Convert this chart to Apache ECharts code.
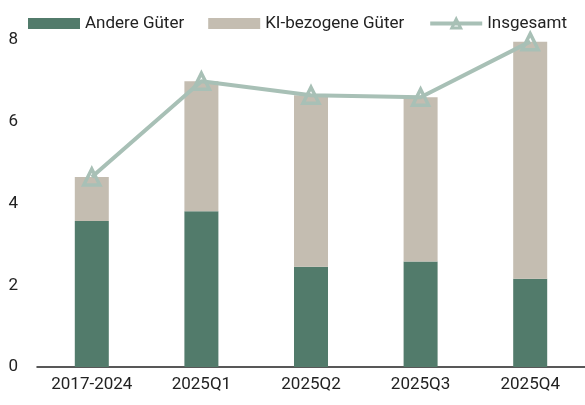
<!DOCTYPE html>
<html>
<head>
<meta charset="utf-8">
<script src="https://cdn.jsdelivr.net/npm/echarts@6/dist/echarts.min.js"></script>
<style>
  html, body { margin: 0; padding: 0; background: #fff; }
  #chart { width: 585px; height: 405px; }
</style>
</head>
<body>
<div id="chart"></div>
<script>
const categories = ['2017-2024', '2025Q1', '2025Q2', '2025Q3', '2025Q4'];
const andereGueter = [3.57, 3.81, 2.45, 2.58, 2.16];
const kiGueter = [1.08, 3.18, 4.2, 4.02, 5.8];
const insgesamt = [4.65, 6.99, 6.65, 6.6, 7.96];
const yTicks = [0, 2, 4, 6, 8];

const font = 'Roboto, "DejaVu Sans Condensed", sans-serif';
const chart = echarts.init(document.getElementById('chart'));

chart.setOption({
  animation: false,
  textStyle: { fontFamily: font },
  legend: {
    top: 10,
    left: 23,
    itemGap: 24,
    itemWidth: 52,
    itemHeight: 11,
    textStyle: { fontSize: 17, color: '#222', fontFamily: font },
    data: [
      { name: 'Andere Güter', icon: 'rect' },
      { name: 'KI-bezogene Güter', icon: 'rect' },
      { name: 'Insgesamt', lineStyle: { width: 4 }, itemStyle: { borderWidth: 3 } }
    ]
  },
  grid: { left: 37, right: 0, top: 40, bottom: 38 },
  xAxis: {
    type: 'category',
    data: categories,
    axisTick: { show: false },
    axisLine: { lineStyle: { color: '#222', width: 1.5 } },
    axisLabel: { color: '#222', fontSize: 17, margin: 9, fontFamily: font }
  },
  yAxis: {
    type: 'value',
    min: yTicks[0],
    max: yTicks[yTicks.length - 1],
    interval: 2,
    splitLine: { show: false },
    axisLine: { show: false },
    axisTick: { show: false },
    axisLabel: { color: '#222', fontSize: 17, margin: 19, fontFamily: font }
  },
  series: [
    {
      name: 'Andere Güter',
      type: 'bar',
      stack: 'total',
      barWidth: 34,
      itemStyle: { color: '#527b6b' },
      data: andereGueter
    },
    {
      name: 'KI-bezogene Güter',
      type: 'bar',
      stack: 'total',
      barWidth: 34,
      itemStyle: { color: '#c4bdb1' },
      data: kiGueter
    },
    {
      name: 'Insgesamt',
      type: 'line',
      symbol: 'triangle',
      symbolSize: 16,
      z: 5,
      lineStyle: { color: '#a8c0b6', width: 4 },
      itemStyle: { color: 'rgba(0,0,0,0)', borderColor: '#a8c0b6', borderWidth: 3.5 },
      data: insgesamt
    }
  ]
});
</script>
</body>
</html>
